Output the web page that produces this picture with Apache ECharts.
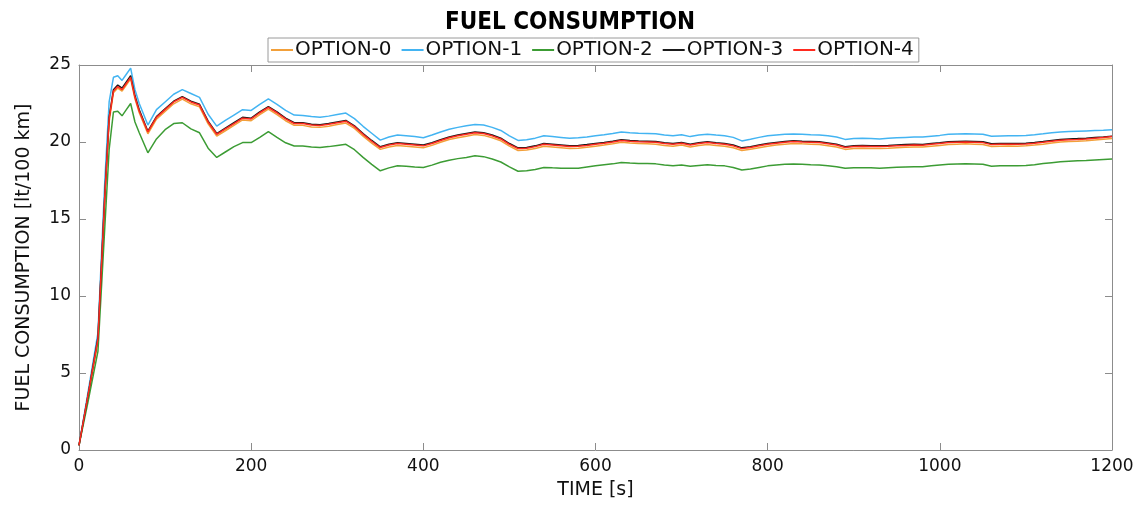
<!DOCTYPE html>
<html><head><meta charset="utf-8">
<script src="https://cdn.jsdelivr.net/npm/echarts@6/dist/echarts.min.js"></script>
<style>html,body{margin:0;padding:0;background:#fff}#c{width:1140px;height:505px}</style>
</head><body><div id="c"></div>
<script>
const TITLE = "FUEL CONSUMPTION";
const SERIES_NAMES = ["OPTION-0","OPTION-1","OPTION-2","OPTION-3","OPTION-4"];
const X_TICKS = [0,200,400,600,800,1000,1200];
const Y_TICKS = [0,5,10,15,20,25];
const TIME = [0,10,22,30,35,40,45,50,55,60,65,70,80,90,100,110,120,130,140,150,160,170,180,190,200,210,220,230,240,250,260,270,280,290,300,310,320,330,340,350,360,370,380,390,400,410,420,430,440,450,460,470,480,490,500,510,520,530,540,550,560,570,580,590,600,610,620,630,640,650,660,670,680,690,700,710,720,730,740,750,760,770,780,790,800,810,820,830,840,850,860,870,880,890,900,910,920,930,940,950,960,970,980,990,1000,1010,1020,1030,1040,1050,1060,1070,1080,1090,1100,1110,1120,1130,1140,1150,1160,1170,1180,1190,1200];
const OPTION_0 = [0.3,3.3,7.0,16.3,21.3,23.2,23.5,23.3,23.7,24.1,22.8,21.9,20.53,21.48,21.98,22.48,22.78,22.48,22.28,21.18,20.38,20.73,21.08,21.43,21.38,21.78,22.13,21.78,21.38,21.08,21.08,20.98,20.95,21.03,21.13,21.23,20.88,20.38,19.93,19.52,19.68,19.78,19.73,19.68,19.63,19.78,19.98,20.16,20.28,20.38,20.48,20.43,20.28,20.08,19.73,19.45,19.48,19.58,19.73,19.68,19.63,19.58,19.6,19.66,19.73,19.8,19.88,19.98,19.93,19.9,19.88,19.86,19.78,19.73,19.8,19.68,19.78,19.84,19.78,19.73,19.63,19.45,19.53,19.63,19.73,19.8,19.86,19.91,19.88,19.86,19.84,19.76,19.68,19.52,19.58,19.6,19.58,19.58,19.6,19.63,19.66,19.68,19.67,19.73,19.78,19.84,19.86,19.88,19.86,19.84,19.71,19.73,19.74,19.73,19.75,19.8,19.86,19.93,20.0,20.03,20.05,20.08,20.13,20.18,20.23];
const OPTION_1 = [0.3,3.6,7.6,17.5,22.6,24.2,24.3,24.0,24.4,24.8,23.4,22.5,21.1,22.1,22.6,23.1,23.4,23.15,22.9,21.8,21.03,21.4,21.75,22.1,22.05,22.45,22.8,22.45,22.05,21.75,21.72,21.65,21.6,21.68,21.78,21.88,21.52,21.02,20.57,20.12,20.32,20.45,20.4,20.35,20.28,20.45,20.65,20.83,20.95,21.05,21.14,21.1,20.95,20.75,20.4,20.1,20.15,20.25,20.4,20.35,20.3,20.25,20.27,20.33,20.4,20.47,20.55,20.65,20.6,20.57,20.56,20.54,20.46,20.4,20.47,20.35,20.45,20.51,20.45,20.4,20.3,20.07,20.18,20.3,20.4,20.45,20.5,20.52,20.5,20.47,20.45,20.4,20.33,20.17,20.22,20.24,20.22,20.2,20.24,20.27,20.3,20.32,20.32,20.38,20.43,20.5,20.52,20.54,20.52,20.5,20.37,20.39,20.4,20.4,20.42,20.47,20.53,20.6,20.65,20.68,20.7,20.72,20.74,20.76,20.8];
const OPTION_2 = [0.3,3.0,6.4,14.5,19.5,21.95,22.0,21.7,22.1,22.5,21.3,20.6,19.3,20.2,20.8,21.2,21.25,20.85,20.6,19.6,19.0,19.35,19.7,19.96,19.96,20.3,20.67,20.3,19.95,19.74,19.74,19.68,19.64,19.7,19.78,19.85,19.5,19.0,18.55,18.13,18.32,18.46,18.43,18.38,18.35,18.5,18.68,18.82,18.92,19.0,19.1,19.05,18.9,18.7,18.38,18.1,18.13,18.22,18.35,18.32,18.3,18.29,18.3,18.38,18.46,18.52,18.58,18.67,18.63,18.6,18.6,18.58,18.5,18.45,18.5,18.42,18.48,18.52,18.48,18.45,18.35,18.18,18.25,18.35,18.45,18.5,18.55,18.57,18.55,18.52,18.5,18.46,18.4,18.29,18.32,18.33,18.32,18.3,18.33,18.36,18.38,18.4,18.4,18.45,18.5,18.55,18.57,18.58,18.57,18.55,18.42,18.45,18.46,18.46,18.48,18.53,18.6,18.66,18.72,18.75,18.78,18.8,18.83,18.86,18.89];
const OPTION_3 = [0.3,3.4,7.3,16.6,21.6,23.4,23.7,23.5,23.9,24.3,23.0,22.1,20.7,21.65,22.15,22.65,22.95,22.65,22.45,21.35,20.55,20.9,21.25,21.6,21.55,21.95,22.3,21.95,21.55,21.25,21.25,21.15,21.12,21.2,21.3,21.4,21.05,20.55,20.1,19.69,19.85,19.95,19.9,19.85,19.8,19.95,20.15,20.33,20.45,20.55,20.65,20.6,20.45,20.25,19.9,19.62,19.65,19.75,19.9,19.85,19.8,19.75,19.77,19.83,19.9,19.97,20.05,20.15,20.1,20.07,20.05,20.03,19.95,19.9,19.97,19.85,19.95,20.01,19.95,19.9,19.8,19.62,19.7,19.8,19.9,19.97,20.03,20.08,20.05,20.03,20.01,19.93,19.85,19.69,19.75,19.77,19.75,19.75,19.77,19.8,19.83,19.85,19.84,19.9,19.95,20.01,20.03,20.05,20.03,20.01,19.88,19.9,19.91,19.9,19.92,19.97,20.03,20.1,20.17,20.2,20.22,20.25,20.3,20.33,20.38];
const OPTION_4 = [0.3,3.4,7.2,16.5,21.5,23.3,23.6,23.4,23.8,24.2,22.9,22.0,20.65,21.6,22.1,22.6,22.9,22.6,22.4,21.3,20.5,20.85,21.2,21.55,21.5,21.9,22.25,21.9,21.5,21.2,21.2,21.1,21.07,21.15,21.25,21.35,21.0,20.5,20.05,19.64,19.8,19.9,19.85,19.8,19.75,19.9,20.1,20.28,20.4,20.5,20.6,20.55,20.4,20.2,19.85,19.57,19.6,19.7,19.85,19.8,19.75,19.7,19.72,19.78,19.85,19.92,20.0,20.1,20.05,20.02,20.0,19.98,19.9,19.85,19.92,19.8,19.9,19.96,19.9,19.85,19.75,19.57,19.65,19.75,19.85,19.92,19.98,20.03,20.0,19.98,19.96,19.88,19.8,19.64,19.7,19.72,19.7,19.7,19.72,19.75,19.78,19.8,19.79,19.85,19.9,19.96,19.98,20.0,19.98,19.96,19.83,19.85,19.86,19.85,19.87,19.92,19.98,20.05,20.12,20.15,20.17,20.2,20.25,20.3,20.35];
const VALUES = [OPTION_0, OPTION_1, OPTION_2, OPTION_3, OPTION_4];
const COLORS = ["#F2A03A","#43B4F2","#3C9C34","#1a1a1a","#FF2A1F"];

const FONT = "DejaVu Sans";
const chart = echarts.init(document.getElementById('c'), null, {renderer:'canvas'});
function axisCommon(extra){
  return Object.assign({
    axisLine:{show:true, onZero:false, lineStyle:{color:'#8c8c8c', width:1}},
    axisTick:{show:true, inside:true, length:7, lineStyle:{color:'#8c8c8c'}},
    splitLine:{show:false}
  }, extra);
}
chart.setOption({
  animation:false,
  backgroundColor:'#fff',
  title:{text:TITLE, left:'center', top:6, textStyle:{fontFamily:'DejaVu Sans Condensed', fontWeight:'bold', fontSize:24, color:'#000'}},
  legend:{
    data:SERIES_NAMES, top:38, left:268,
    borderColor:'#9a9a9a', borderWidth:1, backgroundColor:'#fff',
    padding:[2,5,2,3], itemGap:10, itemWidth:22, itemHeight:2, icon:'rect',
    textStyle:{fontFamily:FONT, fontSize:20, color:'#111', padding:[0,0,0,-3]}
  },
  grid:{left:79, right:28, top:65, bottom:51, containLabel:false},
  xAxis:[
    axisCommon({type:'value', min:0, max:1200, interval:200, position:'bottom',
      name:'TIME [s]', nameLocation:'middle', nameGap:31,
      nameTextStyle:{fontFamily:FONT, fontSize:19, color:'#111'},
      axisLabel:{fontFamily:FONT, fontSize:17, color:'#111', margin:8,
        formatter:(v)=>X_TICKS.includes(v)?String(v):''}}),
    axisCommon({type:'value', min:0, max:1200, interval:200, position:'top', axisLabel:{show:false}})
  ],
  yAxis:[
    axisCommon({type:'value', min:0, max:25, interval:5, position:'left',
      name:'FUEL CONSUMPTION [lt/100 km]', nameLocation:'middle', nameGap:45,
      nameTextStyle:{fontFamily:FONT, fontSize:19, color:'#111'},
      axisLabel:{fontFamily:FONT, fontSize:17, color:'#111', margin:8,
        formatter:(v)=>Y_TICKS.includes(v)?String(v):''}}),
    axisCommon({type:'value', min:0, max:25, interval:5, position:'right', axisLabel:{show:false}})
  ],
  series: SERIES_NAMES.map((n,i)=>({
    name:n, type:'line', showSymbol:false, symbol:'none',
    data: TIME.map((t,j)=>[t, VALUES[i][j]]),
    lineStyle:{color:COLORS[i], width:1.5}, itemStyle:{color:COLORS[i]},
    z: 2+i
  }))
});
</script></body></html>
